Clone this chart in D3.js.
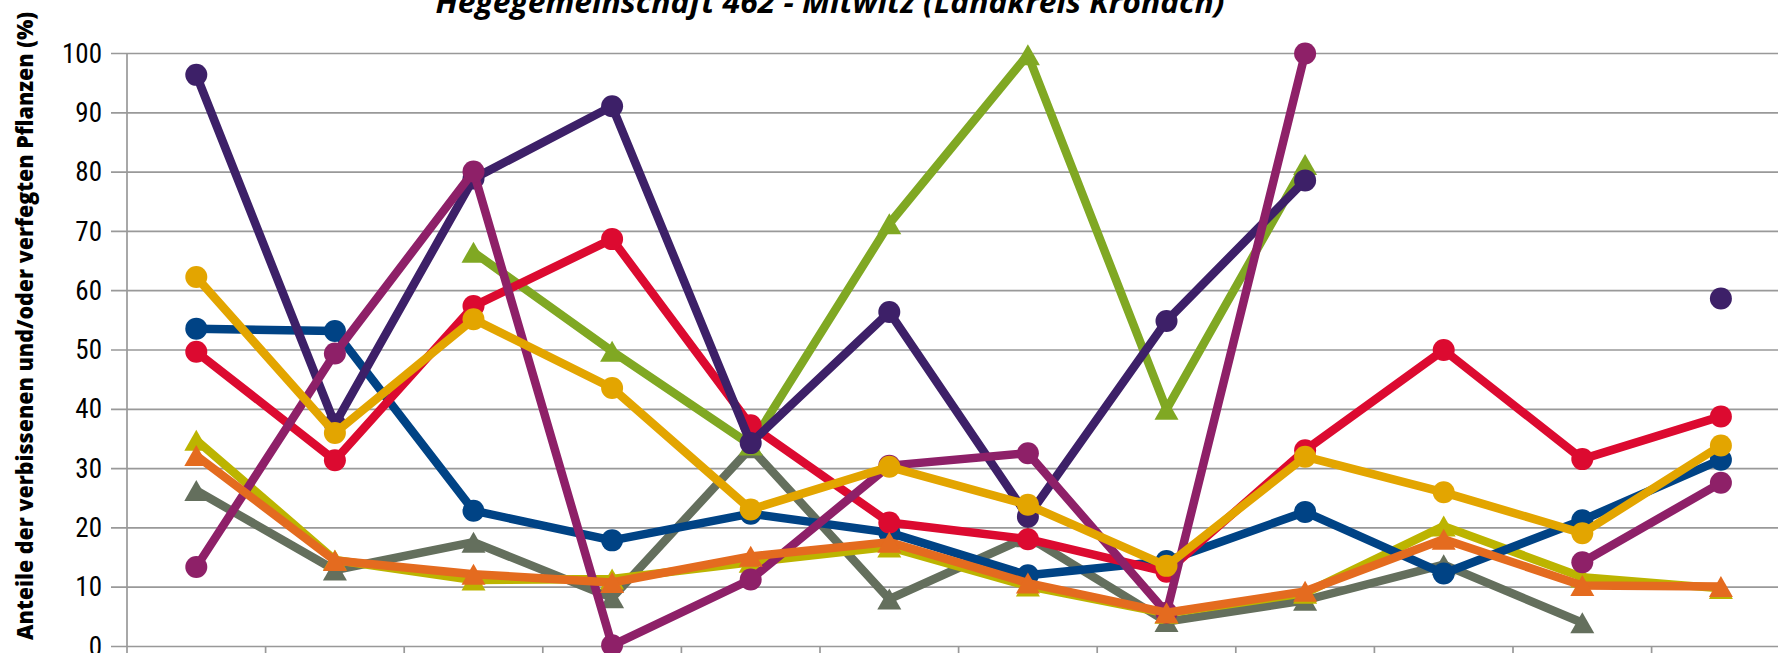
<!DOCTYPE html>
<html><head><meta charset="utf-8">
<script src="https://cdn.jsdelivr.net/npm/d3@7"></script>
<style>html,body{margin:0;padding:0;background:#fff;overflow:hidden}</style>
</head><body><svg id="chart" width="1778" height="653"></svg>
<script>
// ---- data ----
const years = ["1991","1994","1997","2000","2003","2006","2009","2012","2015","2018","2021","2024"];
const yTickValues = [0,10,20,30,40,50,60,70,80,90,100];
const titleText = "Hegegemeinschaft 462 - Mitwitz (Landkreis Kronach)";
const yAxisTitle = "Anteile der verbissenen und/oder verfegten Pflanzen (%)";

const fichteValues      = [53.6, 53.2, 22.9, 17.9, 22.4, 19.2, 12.0, 14.4, 22.7, 12.3, 21.3, 31.5];
const tanneValues       = [96.4, 37.5, 78.9, 91.1, 34.3, 56.4, 21.9, 54.9, 78.6, null, null, 58.7];
const kieferValues      = [49.7, 31.4, 57.4, 68.7, 37.3, 20.9, 18.1, 12.6, 33.1, 50.0, 31.6, 38.8];
const buscheValues      = [62.3, 36.0, 55.2, 43.6, 23.1, 30.3, 23.9, 13.6, 32.0, 26.0, 19.1, 33.9];
const eicheValues       = [13.4, 49.4, 80.1, 0.2, 11.3, 30.5, 32.6, 5.7, 100.0, null, 14.2, 27.6];
const edellaubValues    = [null, null, 66.5, 49.8, 34.0, 71.3, 99.8, 40.0, 81.3, null, null, null];
const sonstLaubValues   = [26.3, 12.9, 17.6, 8.2, 33.5, 8.0, 18.5, 4.2, 7.8, 13.8, 4.0, null];
const leittriebValues   = [34.8, 14.6, 11.2, 11.4, 14.2, 16.8, 10.2, 5.6, 9.0, 20.3, 11.7, 9.8];
const gesamtValues      = [32.2, 14.5, 12.2, 10.8, 15.2, 17.6, 10.7, 5.7, 9.3, 18.1, 10.3, 10.1];

// draw order (later on top) and styles
const seriesList = [
  {name:"Sonstiges Laubholz", values:sonstLaubValues, color:"#646f5d", shape:"tri"},
  {name:"Leittrieb", values:leittriebValues, color:"#bcb400", shape:"tri"},
  {name:"Edellaubholz", values:edellaubValues, color:"#80a823", shape:"tri"},
  {name:"Fichte", values:fichteValues, color:"#004385", shape:"circle"},
  {name:"Kiefer", values:kieferValues, color:"#dc0a30", shape:"circle"},
  {name:"Tanne", values:tanneValues, color:"#3d2068", shape:"circle"},
  {name:"Eiche", values:eicheValues, color:"#8e2068", shape:"circle"},
  {name:"Buche", values:buscheValues, color:"#e3a500", shape:"circle"},
  {name:"Gesamt", values:gesamtValues, color:"#e46b1f", shape:"tri"}
];

// ---- layout ----
const svg = d3.select("#chart");
const left = 127, bandW = 138.6;
const x = d3.scaleBand().domain(years).range([left, left + bandW*years.length]).padding(0);
const y = d3.scaleLinear().domain([0,100]).range([646.5, 53.5]);
const gridColor = "#999999";

// gridlines
svg.append("g").selectAll("line").data(yTickValues).join("line")
  .attr("x1", 111).attr("x2", 1790)
  .attr("y1", d=>y(d)).attr("y2", d=>y(d))
  .attr("stroke", gridColor).attr("stroke-width", 1.7);

// y axis
const yAxis = d3.axisLeft(y).tickValues(yTickValues).tickSize(0).tickPadding(25);
const gy = svg.append("g").attr("transform", `translate(${left},0)`).call(yAxis);
gy.select(".domain").attr("stroke", gridColor).attr("stroke-width", 1.7).attr("d", `M0,${y(100)}V660`);
gy.selectAll("text").attr("font-family", "'Liberation Sans Narrow', 'Roboto Condensed', Lato, sans-serif")
  .attr("font-size", 27).attr("fill", "#000");

// x axis (category labels lie below the visible crop, as in the reference)
const xAxis = d3.axisBottom(x).tickSize(0).tickPadding(40);
const gx = svg.append("g").attr("transform", `translate(0,${y(0)})`).call(xAxis);
gx.select(".domain").remove();
gx.selectAll("text").attr("font-family", "'Liberation Sans Narrow', Lato, sans-serif").attr("font-size", 24).attr("fill","#000");
svg.append("g").selectAll("line").data(years).join("line")
  .attr("x1", d=>x(d)+bandW).attr("x2", d=>x(d)+bandW)
  .attr("y1", y(0)).attr("y2", y(0)+12)
  .attr("stroke", gridColor).attr("stroke-width", 1.7);

// titles
svg.append("text").attr("x", 830).attr("y", 13).attr("text-anchor","middle")
  .attr("font-family","'Open Sans', Lato, sans-serif").attr("font-weight","bold").attr("font-style","italic")
  .attr("font-size", 30).attr("textLength", 789).attr("lengthAdjust","spacingAndGlyphs")
  .text(titleText);
svg.append("text").attr("transform", "translate(33,326) rotate(-90)").attr("text-anchor","middle")
  .attr("font-family","'Open Sans', Lato, sans-serif").attr("font-weight","800")
  .attr("font-size", 22).attr("textLength", 628).attr("lengthAdjust","spacingAndGlyphs")
  .text(yAxisTitle);

// series
const cx = d => x(d) + bandW/2;
const line = d3.line().defined(d => d.v != null).x(d => cx(d.year)).y(d => y(d.v));
const triPath = (w,h) => `M0,${-h/2}L${w/2},${h/2}L${-w/2},${h/2}Z`;

seriesList.forEach(s => {
  const pts = years.map((yr,i) => ({year:yr, v:s.values[i]}));
  const g = svg.append("g").attr("class","series").attr("data-name", s.name);
  g.append("path").attr("d", line(pts)).attr("fill","none")
    .attr("stroke", s.color).attr("stroke-width", 8.5).attr("stroke-linejoin","round");
  const valid = pts.filter(d => d.v != null);
  if (s.shape === "circle") {
    g.selectAll("circle").data(valid).join("circle")
      .attr("cx", d=>cx(d.year)).attr("cy", d=>y(d.v)).attr("r", 11).attr("fill", s.color);
  } else {
    g.selectAll("path.m").data(valid).join("path").attr("class","m")
      .attr("transform", d=>`translate(${cx(d.year)},${y(d.v)})`)
      .attr("d", triPath(24,21)).attr("fill", s.color);
  }
});
</script></body></html>
